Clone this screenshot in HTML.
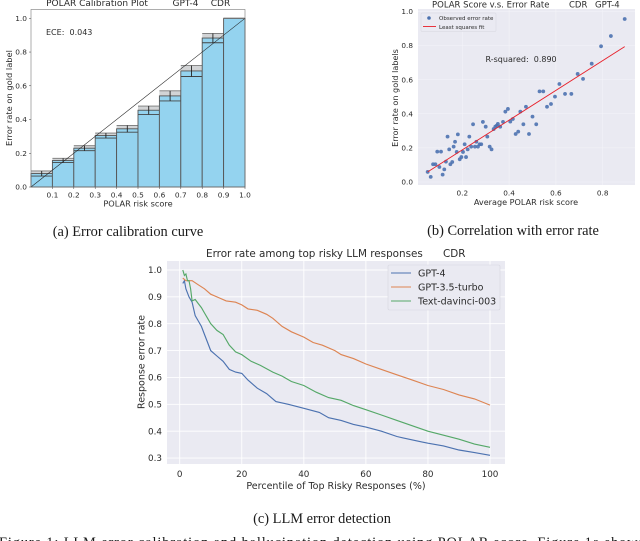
<!DOCTYPE html>
<html>
<head>
<meta charset="utf-8">
<style>
html,body{margin:0;padding:0;background:#fff;width:640px;height:541px;overflow:hidden}
svg{position:absolute;left:0;top:0;filter:blur(0.38px)}
text{font-family:"DejaVu Sans","Liberation Sans",sans-serif;fill:#2b2b2b;white-space:pre}
.cap{font-family:"Liberation Serif",serif;fill:#1a1a1a;font-size:14.4px}
</style>
</head>
<body>
<svg id="fig" width="640" height="541" viewBox="0 0 640 541" xmlns="http://www.w3.org/2000/svg">
<text class="cap" x="128" y="236" text-anchor="middle">(a) Error calibration curve</text>
<text class="cap" x="513" y="235" text-anchor="middle">(b) Correlation with error rate</text>
<text class="cap" x="322" y="523" text-anchor="middle">(c) LLM error detection</text>
<text class="cap" x="-1" y="547" textLength="645" lengthAdjust="spacing">Figure 1: LLM error calibration and hallucination detection using POLAR score. Figure 1a shows</text>
</svg>
<script>
// Chart A data
const calibCenters = [0.05,0.15,0.25,0.35,0.45,0.55,0.65,0.75,0.85,0.95];
const calibMean = [0.08,0.157,0.23,0.305,0.345,0.455,0.54,0.688,0.883,1.0];
const calibLow = [0.065,0.145,0.215,0.29,0.325,0.43,0.51,0.655,0.855,1.0];
const calibHigh = [0.095,0.17,0.245,0.32,0.365,0.48,0.57,0.72,0.91,1.0];
const calibXTicks = [0.1,0.2,0.3,0.4,0.5,0.6,0.7,0.8,0.9,1.0];
const calibYTicks = [0.0,0.2,0.4,0.6,0.8,1.0];
// Chart B data
const scatterX = [.052,.065,.075,.085,.093,.102,.109,.116,.123,.130,.137,.144,.149,.157,.163,.169,.176,.181,.189,.196,.203,.21,.216,.223,.23,.238,.246,.254,.26,.267,.274,.281,.288,.30,.307,.317,.325,.334,.341,.347,.352,.362,.374,.384,.395,.405,.416,.428,.439,.448,.461,.472,.485,.50,.516,.53,.546,.562,.579,.596,.615,.639,.666,.693,.716,.753,.793,.835,.894];
const scatterY = [.059,.03,.104,.104,.178,.088,.178,.043,.074,.119,.266,.191,.104,.117,.207,.236,.176,.279,.133,.146,.176,.221,.146,.191,.266,.207,.338,.207,.236,.207,.221,.221,.352,.324,.266,.207,.191,.31,.324,.33,.34,.324,.352,.412,.428,.354,.369,.281,.295,.412,.338,.441,.281,.383,.338,.531,.531,.441,.457,.50,.574,.516,.516,.633,.604,.693,.795,.855,.955];
const fitX = [0.052,0.894];
const fitY = [0.059,0.793];
const scatterXTicks = [0.2,0.4,0.6,0.8];
const scatterYTicks = [0.0,0.2,0.4,0.6,0.8,1.0];
// Chart C data
const gpt4X = [1,1.5,2,3,4,5,6,7,8,9,10,12,14,16,18,20,22,25,28,31,35,40,45,48,52,56,60,65,70,72,78,80,85,90,95,100];
const gpt4Y = [.95,.96,.93,.90,.88,.83,.81,.79,.76,.73,.70,.68,.66,.63,.62,.615,.59,.56,.54,.51,.50,.485,.47,.45,.44,.425,.415,.40,.38,.375,.36,.355,.345,.33,.32,.31];
const turboX = [1,2,4,6,8,10,12,15,18,20,22,25,28,30,33,36,40,43,46,50,52,56,60,65,70,75,80,85,90,95,100];
const turboY = [.97,.96,.96,.945,.93,.91,.90,.885,.88,.87,.855,.85,.835,.82,.79,.77,.75,.73,.72,.70,.685,.67,.65,.63,.61,.59,.57,.555,.535,.52,.497];
const davinciX = [1,1.5,2,2.5,3,3.5,4,5,6,7,8,9,10,12,14,16,18,20,23,26,30,33,36,40,44,48,52,56,60,65,70,75,80,85,90,95,100];
const davinciY = [1.0,.98,.985,.96,.96,.93,.885,.89,.875,.86,.84,.82,.80,.775,.76,.72,.695,.685,.66,.645,.62,.605,.585,.57,.545,.525,.515,.495,.48,.46,.44,.42,.40,.385,.37,.352,.34];
const lineXTicks = [0,20,40,60,80,100];
const lineYTicks = [0.3,0.4,0.5,0.6,0.7,0.8,0.9,1.0];

const svg = document.getElementById('fig');
const NS = 'http://www.w3.org/2000/svg';
function mk(tag, a, txt){
  const e = document.createElementNS(NS, tag);
  for (const k in a) e.setAttribute(k, a[k]);
  if (txt !== undefined) e.textContent = txt;
  svg.appendChild(e);
  return e;
}
function seg(x1,y1,x2,y2,stroke,w){ return mk('line',{x1:x1,y1:y1,x2:x2,y2:y2,stroke:stroke,'stroke-width':w}); }
function pathOf(xs,ys,fx,fy){ return xs.map((v,i)=>(i?'L':'M')+fx(v).toFixed(1)+' '+fy(ys[i]).toFixed(1)).join(' '); }
let el;

// ---------- Chart A ----------
const ax = v => 31 + v*214;
const ay = v => 187 - v*168.7;
const barW = 0.1;
calibCenters.forEach((c,i)=>{
  el = mk('rect',{x:ax(c-barW/2),y:ay(calibHigh[i]),width:ax(barW)-ax(0),height:ay(calibMean[i])-ay(calibHigh[i]),fill:'#d2d4d6'});
  
  
  el = mk('rect',{x:ax(c-barW/2),y:ay(calibMean[i]),width:ax(barW)-ax(0),height:ay(0)-ay(calibMean[i]),fill:'#94d3ef',stroke:'#555','stroke-width':0.9});
  
  
  el = seg(ax(c-barW/2),ay(calibLow[i]),ax(c+barW/2),ay(calibLow[i]),'#444',0.9);
  
  
  el = seg(ax(c-barW/2),ay(calibHigh[i]),ax(c+barW/2),ay(calibHigh[i]),'#777',0.9);
  
  
  el = seg(ax(c),ay(calibLow[i]),ax(c),ay(calibHigh[i]),'#222',0.9);
  
  
});
el = seg(ax(0),ay(0),ax(1),ay(1),'#222',0.55);


el = mk('rect',{x:ax(0),y:9.5,width:214,height:177.5,fill:'none',stroke:'#777','stroke-width':0.6});


calibXTicks.forEach(t=>{
  seg(ax(t),187,ax(t),189,'#444',0.5);
  el = mk('text',{x:ax(t),y:197.5,'text-anchor':'middle','font-size':7.4},t.toFixed(1));
  
  
});
calibYTicks.forEach(t=>{
  seg(29,ay(t),31,ay(t),'#444',0.5);
  el = mk('text',{x:27,y:ay(t)+2.7,'text-anchor':'end','font-size':7.4},t.toFixed(1));
  
  
});
el = mk('text',{x:138,y:206.5,'text-anchor':'middle','font-size':8.2},'POLAR risk score');


el = mk('text',{x:0,y:0,'text-anchor':'middle','font-size':8.3,transform:'translate(12,98) rotate(-90)'},'Error rate on gold label');


el = mk('text',{x:97,y:6,'text-anchor':'middle','font-size':9},'POLAR Calibration Plot');


el = mk('text',{x:185.5,y:6,'text-anchor':'middle','font-size':9},'GPT-4');


el = mk('text',{x:220.5,y:6,'text-anchor':'middle','font-size':9},'CDR');


el = mk('text',{x:46,y:35,'font-size':8},'ECE:  0.043');



// ---------- Chart B ----------
const bx = v => 462.3 + (v-0.2)*234;
const by = v => 182 - v*170.7;
el = mk('rect',{x:418,y:9,width:217,height:176,fill:'#eaeaf2'});


scatterXTicks.forEach(t=>{
  seg(bx(t),9,bx(t),185,'#f4f4f9',0.5);
  el = mk('text',{x:bx(t),y:195.3,'text-anchor':'middle','font-size':7.3},t.toFixed(1));
  
  
});
scatterYTicks.forEach(t=>{
  seg(418,by(t),635,by(t),'#f4f4f9',0.5);
  el = mk('text',{x:413,y:by(t)+2.7,'text-anchor':'end','font-size':7.3},t.toFixed(1));
  
  
});
scatterX.forEach((v,i)=>{
  el = mk('circle',{cx:bx(v),cy:by(scatterY[i]),r:1.9,fill:'#4c72b0',opacity:0.9});
  
  
});
el = mk('path',{d:pathOf(fitX,fitY,bx,by),fill:'none',stroke:'#e8202a','stroke-width':0.9});


el = mk('rect',{x:421,y:13,width:75,height:18.5,rx:1,fill:'#eaeaf2',stroke:'#d6d6df','stroke-width':0.5});


el = mk('circle',{cx:429,cy:18,r:1.8,fill:'#4c72b0'});


el = seg(423,26.5,436,26.5,'#e8202a',0.9);


el = mk('text',{x:439,y:20,'font-size':5.5},'Observed error rate');


el = mk('text',{x:439,y:29,'font-size':5.5},'Least squares fit');


el = mk('text',{x:485.5,y:62,'font-size':8},'R-squared:  0.890');


el = mk('text',{x:526,y:205,'text-anchor':'middle','font-size':8.1},'Average POLAR risk score');


el = mk('text',{x:0,y:0,'text-anchor':'middle','font-size':8.1,transform:'translate(398,98) rotate(-90)'},'Error rate on gold labels');


el = mk('text',{x:432,y:7.5,'font-size':8.5},'POLAR Score v.s. Error Rate');


el = mk('text',{x:569,y:7.5,'font-size':8.5},'CDR');


el = mk('text',{x:595,y:7.5,'font-size':8.5},'GPT-4');



// ---------- Chart C ----------
const cx = v => 179.7 + v*3.103;
const cy = v => 270 + (1-v)*268.6;
el = mk('rect',{x:167,y:261,width:338,height:203,fill:'#eaeaf2'});


lineXTicks.forEach(t=>{
  seg(cx(t),261,cx(t),464,'#fff',0.9);
  el = mk('text',{x:cx(t),y:477,'text-anchor':'middle','font-size':8.8},String(t));
  
  
});
lineYTicks.forEach(t=>{
  seg(167,cy(t),505,cy(t),'#fff',0.9);
  el = mk('text',{x:162,y:cy(t)+3.2,'text-anchor':'end','font-size':8.8},t.toFixed(1));
  
  
});
el = mk('path',{d:pathOf(gpt4X,gpt4Y,cx,cy),fill:'none',stroke:'#4c72b0','stroke-width':1.15});


el = mk('path',{d:pathOf(turboX,turboY,cx,cy),fill:'none',stroke:'#dd8452','stroke-width':1.15});


el = mk('path',{d:pathOf(davinciX,davinciY,cx,cy),fill:'none',stroke:'#55a868','stroke-width':1.15});


el = mk('rect',{x:388,y:265,width:112,height:45,rx:1.5,fill:'#eaeaf2',stroke:'#d6d6df','stroke-width':0.6});


el = seg(391,273,411,273,'#4c72b0',1.1);


el = seg(391,287,411,287,'#dd8452',1.1);


el = seg(391,301,411,301,'#55a868',1.1);


el = mk('text',{x:418,y:276.5,'font-size':9.5},'GPT-4');


el = mk('text',{x:418,y:290.5,'font-size':9.5},'GPT-3.5-turbo');


el = mk('text',{x:418,y:304.5,'font-size':9.5},'Text-davinci-003');


el = mk('text',{x:206,y:257,'font-size':10.4},'Error rate among top risky LLM responses');


el = mk('text',{x:443,y:257,'font-size':10.4},'CDR');


el = mk('text',{x:336,y:489,'text-anchor':'middle','font-size':9.5},'Percentile of Top Risky Responses (%)');


el = mk('text',{x:0,y:0,'text-anchor':'middle','font-size':9.5,transform:'translate(144.5,362) rotate(-90)'},'Response error rate');


</script>
</body>
</html>
